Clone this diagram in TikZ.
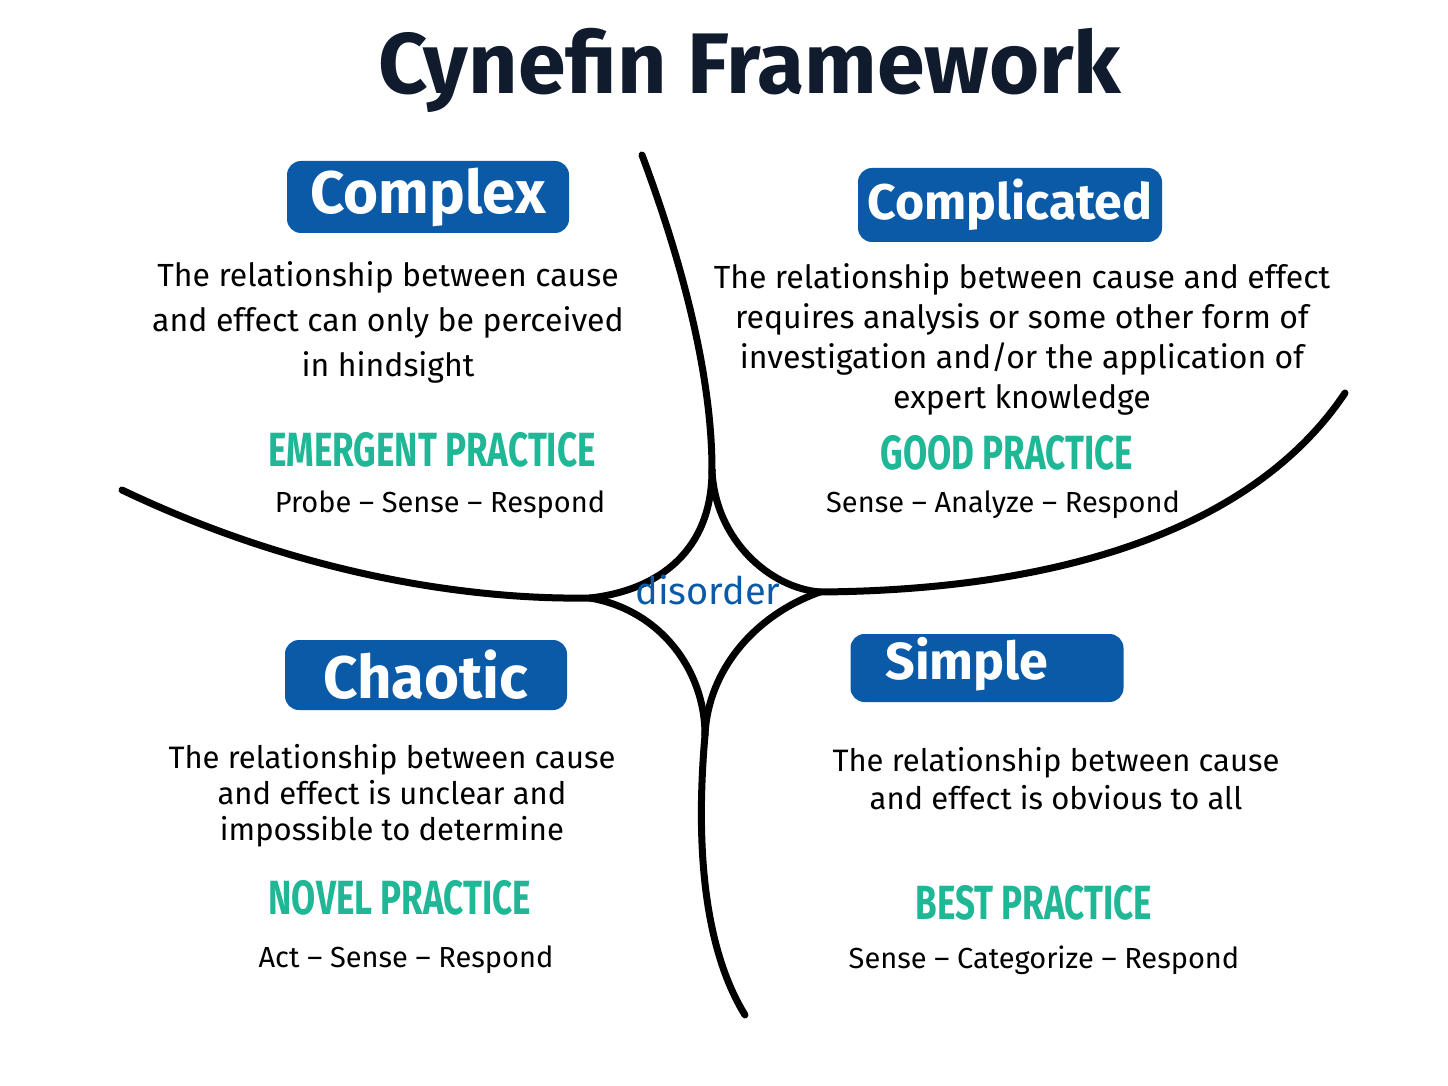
\documentclass[tikz,border=0pt]{standalone}
\usepackage{fontspec}
\setmainfont{Fira Sans}
\newfontfamily\practicefont[FakeStretch=0.73]{Fira Sans}
\usetikzlibrary{positioning}
\definecolor{cynblue}{HTML}{0B5AA8}
\definecolor{cynteal}{HTML}{1FB795}
\definecolor{cynnavy}{HTML}{101B2E}

\begin{document}
\begin{tikzpicture}[x=0.5pt, y=-0.5pt,
domainbox/.style={fill=cynblue, rounded corners=7pt, text=white, inner sep=0pt},
label/.style={font=\fontsize{#1}{#1}\selectfont\bfseries},
desc/.style={align=center, text=black},
practice/.style={text=cynteal, font=\practicefont\fontsize{24}{24}\selectfont\bfseries},
steps/.style={text=black, font=\fontsize{14.5}{18}\selectfont},
border/.style={line width=3.5pt, line cap=round, line join=round}
]
\useasboundingbox[fill=white] (0,0) rectangle (1448,1086);

% title
\node[text=cynnavy, font=\fontsize{43}{43}\selectfont\bfseries] (title) at (750,70) {Cynefin Framework};

% domain boundaries
\coordinate (top) at (642,155);
\coordinate (n) at (712,470);
\coordinate (w) at (590,598);
\coordinate (e) at (820,592);
\coordinate (s) at (705,735);
\coordinate (wend) at (122,490);
\coordinate (eend) at (1345,393);
\coordinate (bot) at (745,1015);
\draw[border] (top) .. controls (685,270) and (712,380) .. (n);
\draw[border] (n) .. controls (712,550) and (660,590) .. (w);
\draw[border] (n) .. controls (715,540) and (770,588) .. (e);
\draw[border] (wend) .. controls (300,575) and (470,600) .. (w);
\draw[border] (e) .. controls (1080,590) and (1260,520) .. (eend);
\draw[border] (w) .. controls (660,610) and (705,670) .. (s);
\draw[border] (e) .. controls (755,615) and (708,670) .. (s);
\draw[border] (s) .. controls (695,850) and (705,950) .. (bot);

\node[text=cynblue, font=\fontsize{19}{19}\selectfont] (disorder) at (708,590) {disorder};

% complex
\node[domainbox, label=30, minimum width=141pt, minimum height=36pt] (complex) at (428,197) {Complex};
\node[desc, font=\fontsize{16}{22.5}\selectfont] (complexdesc) at (388,322)
  {The relationship between cause\\and effect can only be perceived\\in hindsight};
\node[practice] (emergent) at (432,450) {EMERGENT PRACTICE};
\node[steps] (complexsteps) at (440,505) {Probe – Sense – Respond};

% complicated
\node[domainbox, label=25, minimum width=152pt, minimum height=37pt] (complicated) at (1010,205) {Complicated};
\node[desc, font=\fontsize{16}{20}\selectfont] (complicateddesc) at (1022,339)
  {The relationship between cause and effect\\requires analysis or some other form of\\investigation and/or the application of\\expert knowledge};
\node[practice] (good) at (1007,453) {GOOD PRACTICE};
\node[steps] (complicatedsteps) at (1003,505) {Sense – Analyze – Respond};

% chaotic
\node[domainbox, label=30, minimum width=141pt, minimum height=35pt] (chaotic) at (426,675) {Chaotic};
\node[desc, font=\fontsize{15.5}{18}\selectfont] (chaoticdesc) at (392,796)
  {The relationship between cause\\and effect is unclear and\\impossible to determine};
\node[practice] (novel) at (400,898) {NOVEL PRACTICE};
\node[steps] (chaoticsteps) at (406,960) {Act – Sense – Respond};

% simple
\node[domainbox, minimum width=136.5pt, minimum height=34pt] (simplebox) at (987,668) {};
\node[text=white, label=26] (simple) at (967,664) {Simple};
\node[desc, font=\fontsize{15.5}{19}\selectfont] (simpledesc) at (1056,779)
  {The relationship between cause\\and effect is obvious to all};
\node[practice] (best) at (1034,903) {BEST PRACTICE};
\node[steps] (simplesteps) at (1044,960) {Sense – Categorize – Respond};
\end{tikzpicture}
\end{document}
